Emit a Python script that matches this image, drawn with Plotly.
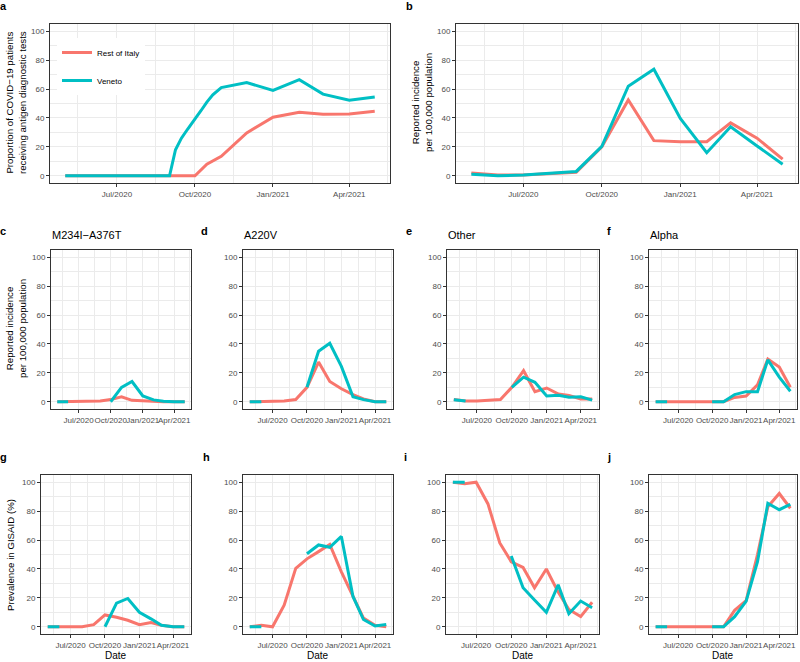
import plotly.graph_objects as go

W, H = 800, 662
RED = "#F8766D"
TEAL = "#00BFC4"
FONT = "Liberation Sans, Arial, sans-serif"

# ---------------- data ----------------
months = ["2020-05-01", "2020-06-01", "2020-07-01", "2020-08-01", "2020-09-01",
          "2020-10-01", "2020-11-01", "2020-12-01", "2021-01-01", "2021-02-01",
          "2021-03-01", "2021-04-01", "2021-05-01"]

# panel a: proportion receiving antigen tests
a_rest_dates = ["2020-05-01", "2020-06-01", "2020-07-01", "2020-08-01", "2020-09-01",
                "2020-10-01", "2020-10-15", "2020-11-01", "2020-12-01", "2021-01-01",
                "2021-02-01", "2021-03-01", "2021-04-01", "2021-05-01"]
a_rest = [0, 0, 0, 0, 0, 0, 8, 13.5, 29.7, 40.5, 44, 42.6, 42.8, 44.6]
a_veneto_dates = ["2020-05-01", "2020-06-01", "2020-07-01", "2020-08-01", "2020-09-01",
                  "2020-09-08", "2020-09-15", "2020-09-22", "2020-10-01", "2020-10-08",
                  "2020-10-15", "2020-10-22", "2020-11-01", "2020-12-01", "2021-01-01",
                  "2021-02-01", "2021-03-01", "2021-04-01", "2021-05-01"]
a_veneto = [0, 0, 0, 0, 0, 18, 26, 32, 39, 45, 51, 56, 61, 64.5, 59, 66.5, 56.5, 52.3, 54.5]

# panel b: reported incidence, all
b_rest = [2, 0.5, 0.5, 1.5, 2.5, 20, 52.5, 24.3, 23.6, 23.6, 36.6, 26, 11.5]
b_veneto = [1, 0, 0.5, 1.5, 3, 20.4, 62, 73.7, 39.6, 16, 33.9, 20.6, 8]

# panels c-f: incidence by lineage
c_rest = [0, 0, 0, 0, 0.5, 1.5, 3.5, 1, 0.5, 0, 0, 0, 0]
c_veneto = [0, 0, None, None, None, 0, 10, 14, 4, 1.3, 0.3, 0, 0]
d_rest = [0, 0, 0, 0.5, 1.5, 10, 27.5, 14, 9, 5, 2, 0, 0]
d_veneto = [0, 0, None, None, None, 10, 35, 40.5, 24.5, 3.5, 1.5, 0, 0]
e_rest = [1.5, 0.5, 0.5, 1, 1.5, 10, 21.5, 7, 9.5, 5.3, 4.3, 2, 2]
e_veneto = [1.4, 0.5, None, None, None, 10, 17, 13.5, 4, 4.5, 3.2, 3.4, 1.1]
f_rest = [0, 0, 0, 0, 0, 0, 0, 3, 4, 11.7, 29.5, 24, 10]
f_veneto = [0, 0, None, None, None, 0, 0, 5, 7, 7, 29, 17, 7.3]

# panels g-j: prevalence in GISAID
g_rest = [0, 0, 0, 0, 1.5, 8.2, 6.6, 4.5, 1.4, 3, 1, 0, 0]
g_veneto = [0, 0, None, None, None, 0, 16.4, 19.6, 10, 5.5, 1, 0, 0]
h_rest = [0, 1, 0, 15, 40.4, 47, 52, 57, 38, 21, 6, 1, 0]
h_veneto = [0, 0, None, None, None, 50.5, 56.6, 55, 62.5, 21, 5, 0.5, 1.5]
i_rest = [100, 99, 100, 85, 58, 45, 41, 27, 40, 24, 12, 7, 17]
i_veneto = [100, 100, None, None, None, 49, 27, 18.5, 10, 29, 9, 17.8, 13.2]
j_rest = [0, 0, 0, 0, 0, 0, 0, 11.4, 18, 50, 83, 92.2, 82]
j_veneto = [0, 0, None, None, None, 0, 0, 7, 17.6, 45, 85.4, 81, 84.7]

series_names = ["Rest of Italy", "Veneto"]
lineage_titles = ["M234I\u2212A376T", "A220V", "Other", "Alpha"]
panel_letters = ["a", "b", "c", "d", "e", "f", "g", "h", "i", "j"]
y_ticks = [0, 20, 40, 60, 80, 100]

# ---------------- layout geometry (pixels) ----------------
# (left, right, top, bottom)
boxes = [
    (50, 390, 24, 183), (456, 798, 24, 183),
    (51, 191, 250, 409), (243, 393, 250, 409), (447, 599, 250, 409), (649, 797, 250, 409),
    (41, 191, 475, 634), (243, 393, 475, 634), (446, 599, 475, 634), (649, 797, 475, 634),
]

panels = [
    (a_rest_dates, a_rest, a_veneto_dates, a_veneto),
    (months, b_rest, months, b_veneto),
    (months, c_rest, months, c_veneto),
    (months, d_rest, months, d_veneto),
    (months, e_rest, months, e_veneto),
    (months, f_rest, months, f_veneto),
    (months, g_rest, months, g_veneto),
    (months, h_rest, months, h_veneto),
    (months, i_rest, months, i_veneto),
    (months, j_rest, months, j_veneto),
]

fig = go.Figure()
layout = dict(
    width=W, height=H, margin=dict(l=0, r=0, t=0, b=0),
    paper_bgcolor="white", plot_bgcolor="white",
    font=dict(family=FONT, color="black"),
    showlegend=True,
    legend=dict(x=57 / W, y=1 - 38 / H, xanchor="left", yanchor="top",
                bgcolor="white", borderwidth=0, font=dict(size=8, color="black"),
                tracegroupgap=9, itemwidth=30),
)

def px2x(p):
    return p / W

def px2y(p):
    return 1 - p / H

for k, (box, (rd, rv, vd, vv)) in enumerate(zip(boxes, panels)):
    l, r, t, b = box
    n = "" if k == 0 else str(k + 1)
    xa, ya = "x" + n, "y" + n
    fig.add_trace(go.Scatter(x=rd, y=rv, mode="lines", name=series_names[0],
                             line=dict(color=RED, width=3), xaxis=xa, yaxis=ya,
                             legendgroup="r", showlegend=(k == 0)))
    fig.add_trace(go.Scatter(x=vd, y=vv, mode="lines", name=series_names[1],
                             line=dict(color=TEAL, width=3), xaxis=xa, yaxis=ya,
                             legendgroup="v", showlegend=(k == 0)))
    common = dict(showline=True, mirror=True, linecolor="#333333", linewidth=1,
                  ticks="outside", ticklen=3, tickcolor="#333333", tickwidth=1,
                  tickfont=dict(size=8, color="#4D4D4D", family=FONT),
                  showgrid=True, gridcolor="#EBEBEB", gridwidth=1, zeroline=False)
    layout["xaxis" + n] = dict(
        common, domain=[px2x(l), px2x(r)], anchor=ya, type="date",
        range=["2020-04-13", "2021-05-19"], tick0="2020-01-01", dtick="M3",
        tickformat="%b/%Y", tickangle=0,
        minor=dict(tick0="2020-05-16", dtick="M3", showgrid=True,
                   gridcolor="#EBEBEB", gridwidth=0.5))
    layout["yaxis" + n] = dict(
        common, domain=[px2y(b), px2y(t)], anchor=xa, range=[-5, 105],
        tickvals=y_ticks,
        minor=dict(tick0=10, dtick=20, showgrid=True, gridcolor="#EBEBEB", gridwidth=0.5))

ann = []
# panel letters
letter_pos = [(3, 6), (409, 6), (3, 231), (205, 231), (409, 231), (609, 231),
              (3, 457), (207, 457), (406, 457), (609, 457)]
for lt, (x, y) in zip(panel_letters, letter_pos):
    ann.append(dict(text="<b>%s</b>" % lt, x=px2x(x), y=px2y(y), xref="paper", yref="paper",
                    xanchor="center", yanchor="middle", showarrow=False,
                    font=dict(size=11, color="black")))
# lineage titles (row 2)
for title, k in zip(lineage_titles, [2, 3, 4, 5]):
    ann.append(dict(text=title, x=px2x(boxes[k][0] - 1), y=px2y(235), xref="paper", yref="paper",
                    xanchor="left", yanchor="middle", showarrow=False,
                    font=dict(size=11, color="black")))
# y axis titles
ytitles = [
    ("Proportion of COVID\u221219 patients<br>receiving antigen diagnostic tests", 16, 103),
    ("Reported incidence<br>per 100,000 population", 422, 103),
    ("Reported incidence<br>per 100,000 population", 16, 329),
    ("Prevalence in GISAID (%)", 10, 555),
]
for txt, x, y in ytitles:
    ann.append(dict(text=txt, x=px2x(x), y=px2y(y), xref="paper", yref="paper",
                    xanchor="center", yanchor="middle", showarrow=False, textangle=-90,
                    font=dict(size=9.7, color="black")))
# x axis titles (bottom row)
for k in [6, 7, 8, 9]:
    l, r, t, b = boxes[k]
    ann.append(dict(text="Date", x=px2x((l + r) / 2), y=px2y(655.5), xref="paper", yref="paper",
                    xanchor="center", yanchor="middle", showarrow=False,
                    font=dict(size=10, color="black")))
layout["annotations"] = ann
fig.update_layout(**layout)
fig.write_html("out.html", config={"displayModeBar": False},
               post_script="document.body.style.margin='0';document.body.style.padding='0';"
                           "document.body.style.overflow='hidden';")
